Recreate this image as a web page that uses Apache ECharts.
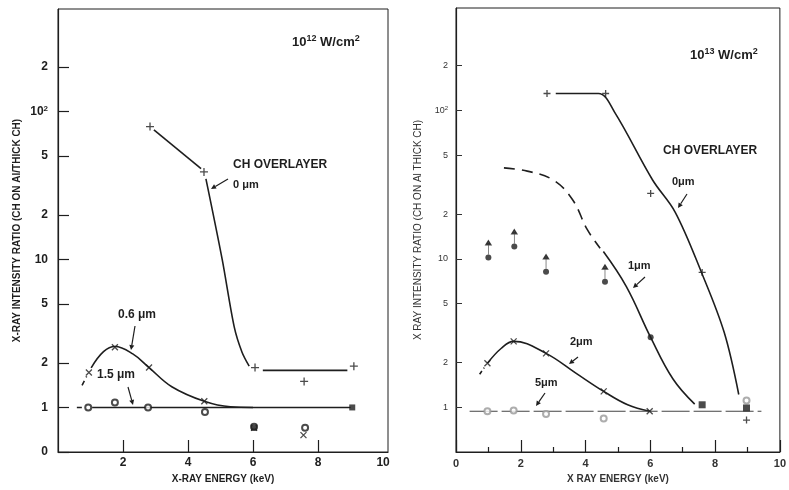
<!DOCTYPE html>
<html>
<head>
<meta charset="utf-8">
<title>X-ray intensity ratio</title>
<script src="https://cdn.jsdelivr.net/npm/echarts@6/dist/echarts.min.js"></script>
</head>
<body style="margin:0;background:#fff">
<div id="main" style="width:789px;height:490px;"></div>
<script type="text/javascript">
// y axis is logarithmic; the "0" label of the left panel sits where 0.5 would be
var yTickValues = [0.5, 1, 2, 5, 10, 20, 50, 100, 200];
var yTickTextL = ['0', '1', '2', '5', '10', '2', '5', '10{s|2}', '2'];
var yTickTextR = ['', '1', '2', '5', '10', '2', '5', '10{s|2}', '2'];
var xTicksL = [2, 4, 6, 8];
var xLabelsL = [2, 4, 6, 8, 10];

// ---- left panel, 10^12 W/cm2 ----
var l0Plus = [[2.83, 79], [4.49, 39], [6.06, 1.86], [9.1, 1.9], [7.57, 1.5]];
var l0LineA = [[2.95, 75], [4.4, 41]];
var l0LineB = [[4.55, 35], [5.05, 10], [5.42, 3.5], [5.66, 2.36], [5.88, 1.9]];
var l0LineC = [[6.3, 1.78], [8.9, 1.78]];
var l06Cross = [[0.95, 1.72], [1.75, 2.55], [2.8, 1.86], [4.5, 1.1], [6.03, 0.73], [7.55, 0.65]];
var l06Dash = [[0.74, 1.41], [0.88, 1.62]];
var l06Line = [[1.02, 1.85], [1.4, 2.38], [1.75, 2.58], [2.3, 2.3], [2.8, 1.86], [3.5, 1.38], [4.5, 1.1], [5.3, 1.01], [6.0, 1.0]];
var l15Circle = [[0.93, 1.0], [1.75, 1.08], [2.77, 1.0], [4.52, 0.93], [7.6, 0.73], [6.03, 0.74]];
var l15Dash = [[0.58, 1.0], [0.76, 1.0]];
var l15Line = [[1.05, 1.0], [9.0, 1.0]];
var lSquare = [[6.03, 0.73], [9.05, 1.0]];

// ---- right panel, 10^13 W/cm2 ----
var r0Plus = [[2.81, 130], [4.62, 130], [6.01, 27.6], [7.6, 8.1], [8.97, 0.82]];
var r0Line = [[3.08, 130], [4.4, 130], [4.9, 97], [6.07, 34], [6.77, 20.6], [7.58, 8.1], [8.28, 3.2], [8.73, 1.22]];
var r1Dash = [[1.48, 41], [2.2, 39], [3.0, 34], [3.6, 25], [4.05, 15.8], [4.45, 11.8]];
var r1Line = [[4.55, 11.2], [5.26, 6.5], [6.01, 2.96], [6.7, 1.55], [7.37, 1.05]];
var rDots = [[1.0, 10.2], [1.8, 12.1], [2.78, 8.2], [4.6, 7.0], [6.01, 2.96]];
var rLimits = [[1.0, 10.2], [1.8, 12.1], [2.78, 8.2], [4.6, 7.0]];
var r2Cross = [[0.97, 1.98], [1.78, 2.78], [2.78, 2.31], [4.56, 1.28], [5.98, 0.94]];
var r2Dash = [[0.73, 1.67], [0.87, 1.85]];
var r2Line = [[0.97, 1.98], [1.4, 2.5], [1.78, 2.78], [2.78, 2.31], [3.7, 1.7], [4.56, 1.28], [5.3, 1.04], [5.98, 0.94]];
var r5Line = [[0.42, 0.94], [9.43, 0.94]];
var rCircle = [[0.97, 0.94], [1.78, 0.95], [2.78, 0.9], [4.56, 0.84], [8.97, 1.11]];
var rSquare = [[7.6, 1.04], [8.97, 0.99]];

var font = "'Liberation Sans', Arial, sans-serif";
var ink = '#1e1e1e';

function lg(arr) {
    return arr.map(function (p) { return [p[0], Math.log10(p[1])]; });
}
var yLog = yTickValues.map(function (v) { return Math.log10(v); });

function tickFmt(texts) {
    return function (v) {
        var best = 0;
        for (var i = 1; i < yLog.length; i++) {
            if (Math.abs(yLog[i] - v) < Math.abs(yLog[best] - v)) best = i;
        }
        return texts[best];
    };
}

var plusSym = 'path://M5,0V10M0,5H10';
var crossSym = 'path://M0,0L10,10M10,0L0,10';
var arrowSym = 'path://M5,3L5,16M2.6,4.5L5,0L7.4,4.5Z';

function line(data, g, opt) {
    var s = {
        type: 'line', xAxisIndex: g, yAxisIndex: g, data: lg(data),
        showSymbol: false, symbol: 'none', silent: true,
        lineStyle: { color: ink, width: 1.6 }
    };
    for (var k in opt) s[k] = opt[k];
    return s;
}
function dots(data, g, symbol, size, style, extra) {
    var s = {
        type: 'scatter', xAxisIndex: g, yAxisIndex: g, data: lg(data),
        symbol: symbol, symbolSize: size, itemStyle: style, z: 5
    };
    for (var k in extra) s[k] = extra[k];
    return s;
}
var strokeStyle = { color: 'rgba(0,0,0,0)', borderColor: ink, borderWidth: 1.3 };

// pointer arrows for the curve labels
function arrow(x1, y1, x2, y2) {
    var a = Math.atan2(y2 - y1, x2 - x1), h = 5, w = 2.5;
    var bx = x2 - h * Math.cos(a), by = y2 - h * Math.sin(a);
    return [
        { type: 'line', shape: { x1: x1, y1: y1, x2: bx, y2: by }, style: { stroke: ink, lineWidth: 1.2 } },
        { type: 'polygon', shape: { points: [[x2, y2], [bx + w * Math.sin(a), by - w * Math.cos(a)], [bx - w * Math.sin(a), by + w * Math.cos(a)]] }, style: { fill: ink } }
    ];
}
function txt(x, y, t, size, rich) {
    return {
        type: 'text', x: x, y: y,
        style: { text: t, font: 'bold ' + size + 'px ' + font, fill: ink, verticalAlign: 'middle', rich: rich || {} }
    };
}
var supRich = { s: { fontSize: 9, fontWeight: 'bold', fontFamily: font, fill: ink, verticalAlign: 'bottom', padding: [0, 0, 6, 0] } };

var graphics = [
    txt(292, 42, '10{s|12} W/cm{s|2}', 13, supRich),
    txt(233, 165, 'CH OVERLAYER', 12),
    txt(233, 185, '0 \u03bcm', 11),
    txt(118, 315, '0.6 \u03bcm', 12),
    txt(97, 375, '1.5 \u03bcm', 12),
    txt(690, 55, '10{s|13} W/cm{s|2}', 13, supRich),
    txt(663, 151, 'CH OVERLAYER', 12),
    txt(672, 182, '0\u03bcm', 11),
    txt(628, 266, '1\u03bcm', 11),
    txt(570, 342, '2\u03bcm', 11),
    txt(535, 383, '5\u03bcm', 11)
].concat(
    arrow(228, 179, 211, 189),
    arrow(135, 326, 131, 350),
    arrow(128, 387, 133, 405),
    arrow(687, 194, 678, 208),
    arrow(645, 277, 633, 288),
    arrow(578, 357, 569, 364),
    arrow(545, 393, 536, 406)
);

var myChart = echarts.init(document.getElementById('main'));
var option = {
    animation: false,
    backgroundColor: '#fff',
    textStyle: { fontFamily: font },
    grid: [
        { left: 58, top: 9, width: 330, height: 443, show: true, borderColor: ink, borderWidth: 1 },
        { left: 456, top: 8, width: 331, height: 444, show: true, borderColor: ink, borderWidth: 1 }
    ],
    xAxis: [
        {
            gridIndex: 0, type: 'value', min: 0, max: 10.15,
            axisLine: { onZero: false, lineStyle: { color: ink, width: 1.2 } },
            axisTick: { inside: true, length: 12, customValues: xTicksL, lineStyle: { color: ink, width: 1.2 } },
            axisLabel: { customValues: xLabelsL, fontWeight: 'bold', fontSize: 12, color: ink, margin: 5 },
            splitLine: { show: false },
            name: 'X-RAY ENERGY (keV)', nameLocation: 'middle', nameGap: 21,
            nameTextStyle: { fontWeight: 'bold', fontSize: 10, color: ink }
        },
        {
            gridIndex: 1, type: 'value', min: 0, max: 10, interval: 2,
            axisLine: { onZero: false, lineStyle: { color: ink, width: 1.2 } },
            axisTick: { inside: true, length: 12, lineStyle: { color: ink, width: 1.2 } },
            minorTick: { show: true, splitNumber: 2, length: 5, lineStyle: { color: ink, width: 1.2 } },
            axisLabel: { fontWeight: 'bold', fontSize: 11, color: '#333', margin: 6 },
            splitLine: { show: false },
            name: 'X RAY ENERGY (keV)', nameLocation: 'middle', nameGap: 22,
            nameTextStyle: { fontWeight: 'bold', fontSize: 10, color: '#333' }
        }
    ],
    yAxis: [
        {
            gridIndex: 0, type: 'value', min: Math.log10(0.5), max: 2.692,
            axisLine: { onZero: false, lineStyle: { color: ink, width: 1.2 } },
            axisTick: { inside: true, length: 11, customValues: yLog, lineStyle: { color: ink, width: 1.2 } },
            axisLabel: {
                customValues: yLog, formatter: tickFmt(yTickTextL),
                fontWeight: 'bold', fontSize: 12, color: ink, margin: 10,
                rich: { s: { fontSize: 8, fontWeight: 'bold', color: ink, verticalAlign: 'bottom', padding: [0, 0, 6, 0] } }
            },
            splitLine: { show: false },
            name: 'X-RAY INTENSITY RATIO (CH ON Al/THICK CH)', nameLocation: 'middle', nameGap: 36,
            nameTextStyle: { fontWeight: 'bold', fontSize: 10, color: ink }
        },
        {
            gridIndex: 1, type: 'value', min: Math.log10(0.5), max: 2.69,
            axisLine: { onZero: false, lineStyle: { color: ink, width: 1.2 } },
            axisTick: { inside: true, length: 6, customValues: yLog.slice(1), lineStyle: { color: '#333', width: 1 } },
            axisLabel: {
                customValues: yLog.slice(1), formatter: tickFmt(yTickTextR),
                fontSize: 9, color: '#333', margin: 8,
                rich: { s: { fontSize: 6, color: '#333', verticalAlign: 'bottom', padding: [0, 0, 5, 0] } }
            },
            splitLine: { show: false },
            name: 'X RAY INTENSITY RATIO (CH ON Al THICK CH)', nameLocation: 'middle', nameGap: 33,
            nameTextStyle: { fontSize: 10, color: '#333' }
        }
    ],
    series: [
        line(l0LineA, 0, {}),
        line(l0LineB, 0, { smooth: 0.3 }),
        line(l0LineC, 0, {}),
        line(l06Dash, 0, { lineStyle: { color: ink, width: 1.6, type: [5, 4] } }),
        line(l06Line, 0, { smooth: 0.4 }),
        line(l15Dash, 0, { lineStyle: { color: ink, width: 1.4, type: [5, 4] } }),
        line(l15Line, 0, { lineStyle: { color: ink, width: 1.4 } }),
        dots(l0Plus, 0, plusSym, 8, strokeStyle),
        dots(l06Cross, 0, crossSym, 6, strokeStyle),
        dots(l15Circle, 0, 'emptyCircle', 6, { color: ink, borderWidth: 1.3 }),
        dots(lSquare, 0, 'rect', 6, { color: ink }),

        line(r0Line, 1, { smooth: 0.35 }),
        line(r1Dash, 1, { smooth: 0.4, lineStyle: { color: ink, width: 1.6, type: [11, 7] } }),
        line(r1Line, 1, { smooth: 0.4 }),
        line(r2Dash, 1, { lineStyle: { color: ink, width: 1.6, type: [4, 3] } }),
        line(r2Line, 1, { smooth: 0.4 }),
        line(r5Line, 1, { lineStyle: { color: '#444', width: 1.1, type: [28, 4] } }),
        dots(r0Plus, 1, plusSym, 7, strokeStyle),
        dots(rDots, 1, 'circle', 6, { color: ink }),
        dots(rLimits, 1, arrowSym, [5, 14], { color: ink, borderColor: ink, borderWidth: 1.1 }, { symbolOffset: [0, -10] }),
        dots(r2Cross, 1, crossSym, 6, strokeStyle),
        dots(rCircle, 1, 'emptyCircle', 6, { color: '#999', borderWidth: 1.1 }),
        dots(rSquare, 1, 'rect', 7, { color: ink })
    ],
    graphic: graphics
};
myChart.setOption(option);
</script>
</body>
</html>
